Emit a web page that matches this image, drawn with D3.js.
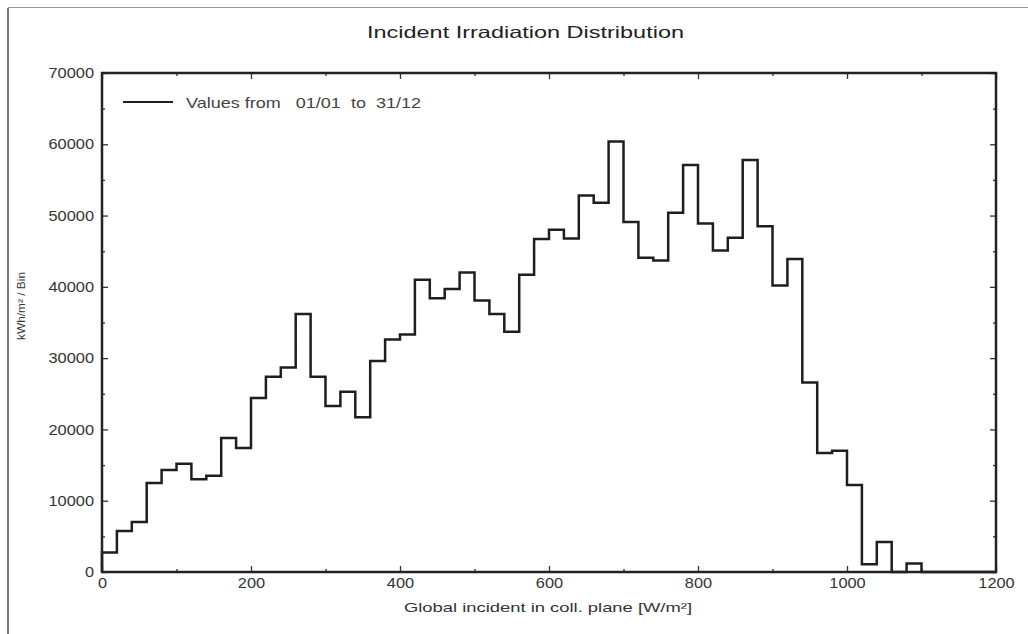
<!DOCTYPE html>
<html>
<head>
<meta charset="utf-8">
<script src="https://cdn.jsdelivr.net/npm/d3@7"></script>
<style>
  body { margin: 0; background: #fff; }
  svg { display: block; font-family: "Liberation Sans", Arial, sans-serif; }
</style>
</head>
<body>
<svg id="chart" width="1028" height="634"></svg>
<script>
// Bin start (W/m²), bins are 20 W/m² wide
const binStarts = [0,20,40,60,80,100,120,140,160,180,200,220,240,260,280,300,320,340,360,380,
  400,420,440,460,480,500,520,540,560,580,600,620,640,660,680,700,720,740,760,780,
  800,820,840,860,880,900,920,940,960,980,1000,1020,1040,1060,1080];
const binWidth = 20;
// kWh/m² per bin
const binValues = [2750,5750,7000,12500,14300,15200,13000,13500,18800,17400,
  24400,27400,28700,36200,27400,23300,25300,21700,29600,32600,
  33300,41000,38400,39700,42000,38100,36200,33700,41700,46700,
  48000,46800,52800,51800,60400,49100,44100,43700,50400,57100,
  48900,45100,46900,57800,48500,40200,43900,26600,16700,17000,
  12200,1100,4200,0,1200];
const xTicks = [0,200,400,600,800,1000,1200];
const xMinor = [100,300,500,700,900,1100];
const yTicks = [0,10000,20000,30000,40000,50000,60000,70000];
const yMinor = [5000,15000,25000,35000,45000,55000,65000];
const title = "Incident Irradiation Distribution";
const xTitle = "Global incident in coll. plane [W/m²]";
const yTitle = "kWh/m² / Bin";
const legendText = "Values from   01/01  to  31/12";

const svg = d3.select("#chart");
const m = {left: 102, right: 996, top: 73, bottom: 572};
const x = d3.scaleLinear().domain([0, 1200]).range([m.left, m.right]);
const y = d3.scaleLinear().domain([0, 70000]).range([m.bottom, m.top]);
const digitW = 9.1; // stretched digit width of tick labels

// outer frame fragments
svg.append("line").attr("x1", 8).attr("x2", 8).attr("y1", 8).attr("y2", 634)
  .attr("stroke", "#555").attr("stroke-width", 1.5);
svg.append("line").attr("x1", 8).attr("x2", 1028).attr("y1", 7.5).attr("y2", 7.5)
  .attr("stroke", "#999").attr("stroke-width", 1);

// title
svg.append("text").attr("x", 367).attr("y", 38)
  .attr("font-size", 16.5).attr("fill", "#222")
  .attr("textLength", 317).attr("lengthAdjust", "spacingAndGlyphs").text(title);

// axes with inward ticks
function styleAxis(g) {
  g.select(".domain").remove();
  g.selectAll(".tick line").attr("stroke", "#333").attr("stroke-width", 1.3);
  g.selectAll(".tick text").attr("fill", "#333").attr("font-size", 14.5)
    .attr("font-family", "\"Liberation Sans\", Arial, sans-serif")
    .attr("lengthAdjust", "spacingAndGlyphs")
    .attr("textLength", function() { return this.textContent.length * digitW; });
}
const gx = svg.append("g").attr("transform", `translate(0,${m.bottom})`)
  .call(d3.axisBottom(x).tickValues(xTicks).tickSize(-6).tickPadding(6).tickFormat(d3.format("d")));
styleAxis(gx);
const gxm = svg.append("g").attr("transform", `translate(0,${m.bottom})`)
  .call(d3.axisBottom(x).tickValues(xMinor).tickSize(-3).tickFormat(""));
styleAxis(gxm);
const gxt = svg.append("g").attr("transform", `translate(0,${m.top})`)
  .call(d3.axisTop(x).tickValues(xTicks).tickSize(-6).tickFormat(""));
styleAxis(gxt);
const gxtm = svg.append("g").attr("transform", `translate(0,${m.top})`)
  .call(d3.axisTop(x).tickValues(xMinor).tickSize(-3).tickFormat(""));
styleAxis(gxtm);

const gy = svg.append("g").attr("transform", `translate(${m.left},0)`)
  .call(d3.axisLeft(y).tickValues(yTicks).tickSize(-6).tickPadding(8).tickFormat(d3.format("d")));
styleAxis(gy);
const gym = svg.append("g").attr("transform", `translate(${m.left},0)`)
  .call(d3.axisLeft(y).tickValues(yMinor).tickSize(-3).tickFormat(""));
styleAxis(gym);
const gyr = svg.append("g").attr("transform", `translate(${m.right},0)`)
  .call(d3.axisRight(y).tickValues(yTicks).tickSize(-6).tickFormat(""));
styleAxis(gyr);
const gyrm = svg.append("g").attr("transform", `translate(${m.right},0)`)
  .call(d3.axisRight(y).tickValues(yMinor).tickSize(-3).tickFormat(""));
styleAxis(gyrm);

// step histogram outline
const pts = [[0, 0]];
binStarts.forEach((b, i) => {
  pts.push([b, binValues[i]]);
  pts.push([b + binWidth, binValues[i]]);
});
pts.push([binStarts[binStarts.length - 1] + binWidth, 0]);
pts.push([1200, 0]);
const line = d3.line().x(d => x(d[0])).y(d => y(d[1]));
svg.append("path").attr("d", line(pts)).attr("fill", "none")
  .attr("stroke", "#1e1e1e").attr("stroke-width", 2.5).attr("stroke-linejoin", "miter");

// plot border
svg.append("rect").attr("x", m.left).attr("y", m.top)
  .attr("width", m.right - m.left).attr("height", m.bottom - m.top)
  .attr("fill", "none").attr("stroke", "#222").attr("stroke-width", 2.5);

// legend
svg.append("line").attr("x1", 123).attr("x2", 173).attr("y1", 102).attr("y2", 102)
  .attr("stroke", "#1e1e1e").attr("stroke-width", 2.2);
svg.append("text").attr("x", 186).attr("y", 107.5).attr("font-size", 14.5)
  .attr("fill", "#444").attr("xml:space", "preserve").style("white-space", "pre")
  .attr("textLength", 235).attr("lengthAdjust", "spacingAndGlyphs").text(legendText);

// axis titles
svg.append("text").attr("x", 404).attr("y", 612)
  .attr("font-size", 13).attr("fill", "#333")
  .attr("textLength", 288).attr("lengthAdjust", "spacingAndGlyphs").text(xTitle);
svg.append("text").attr("transform", "translate(25,340) rotate(-90)")
  .attr("font-size", 10).attr("fill", "#333")
  .attr("textLength", 68).attr("lengthAdjust", "spacingAndGlyphs").text(yTitle);
</script>
</body>
</html>
